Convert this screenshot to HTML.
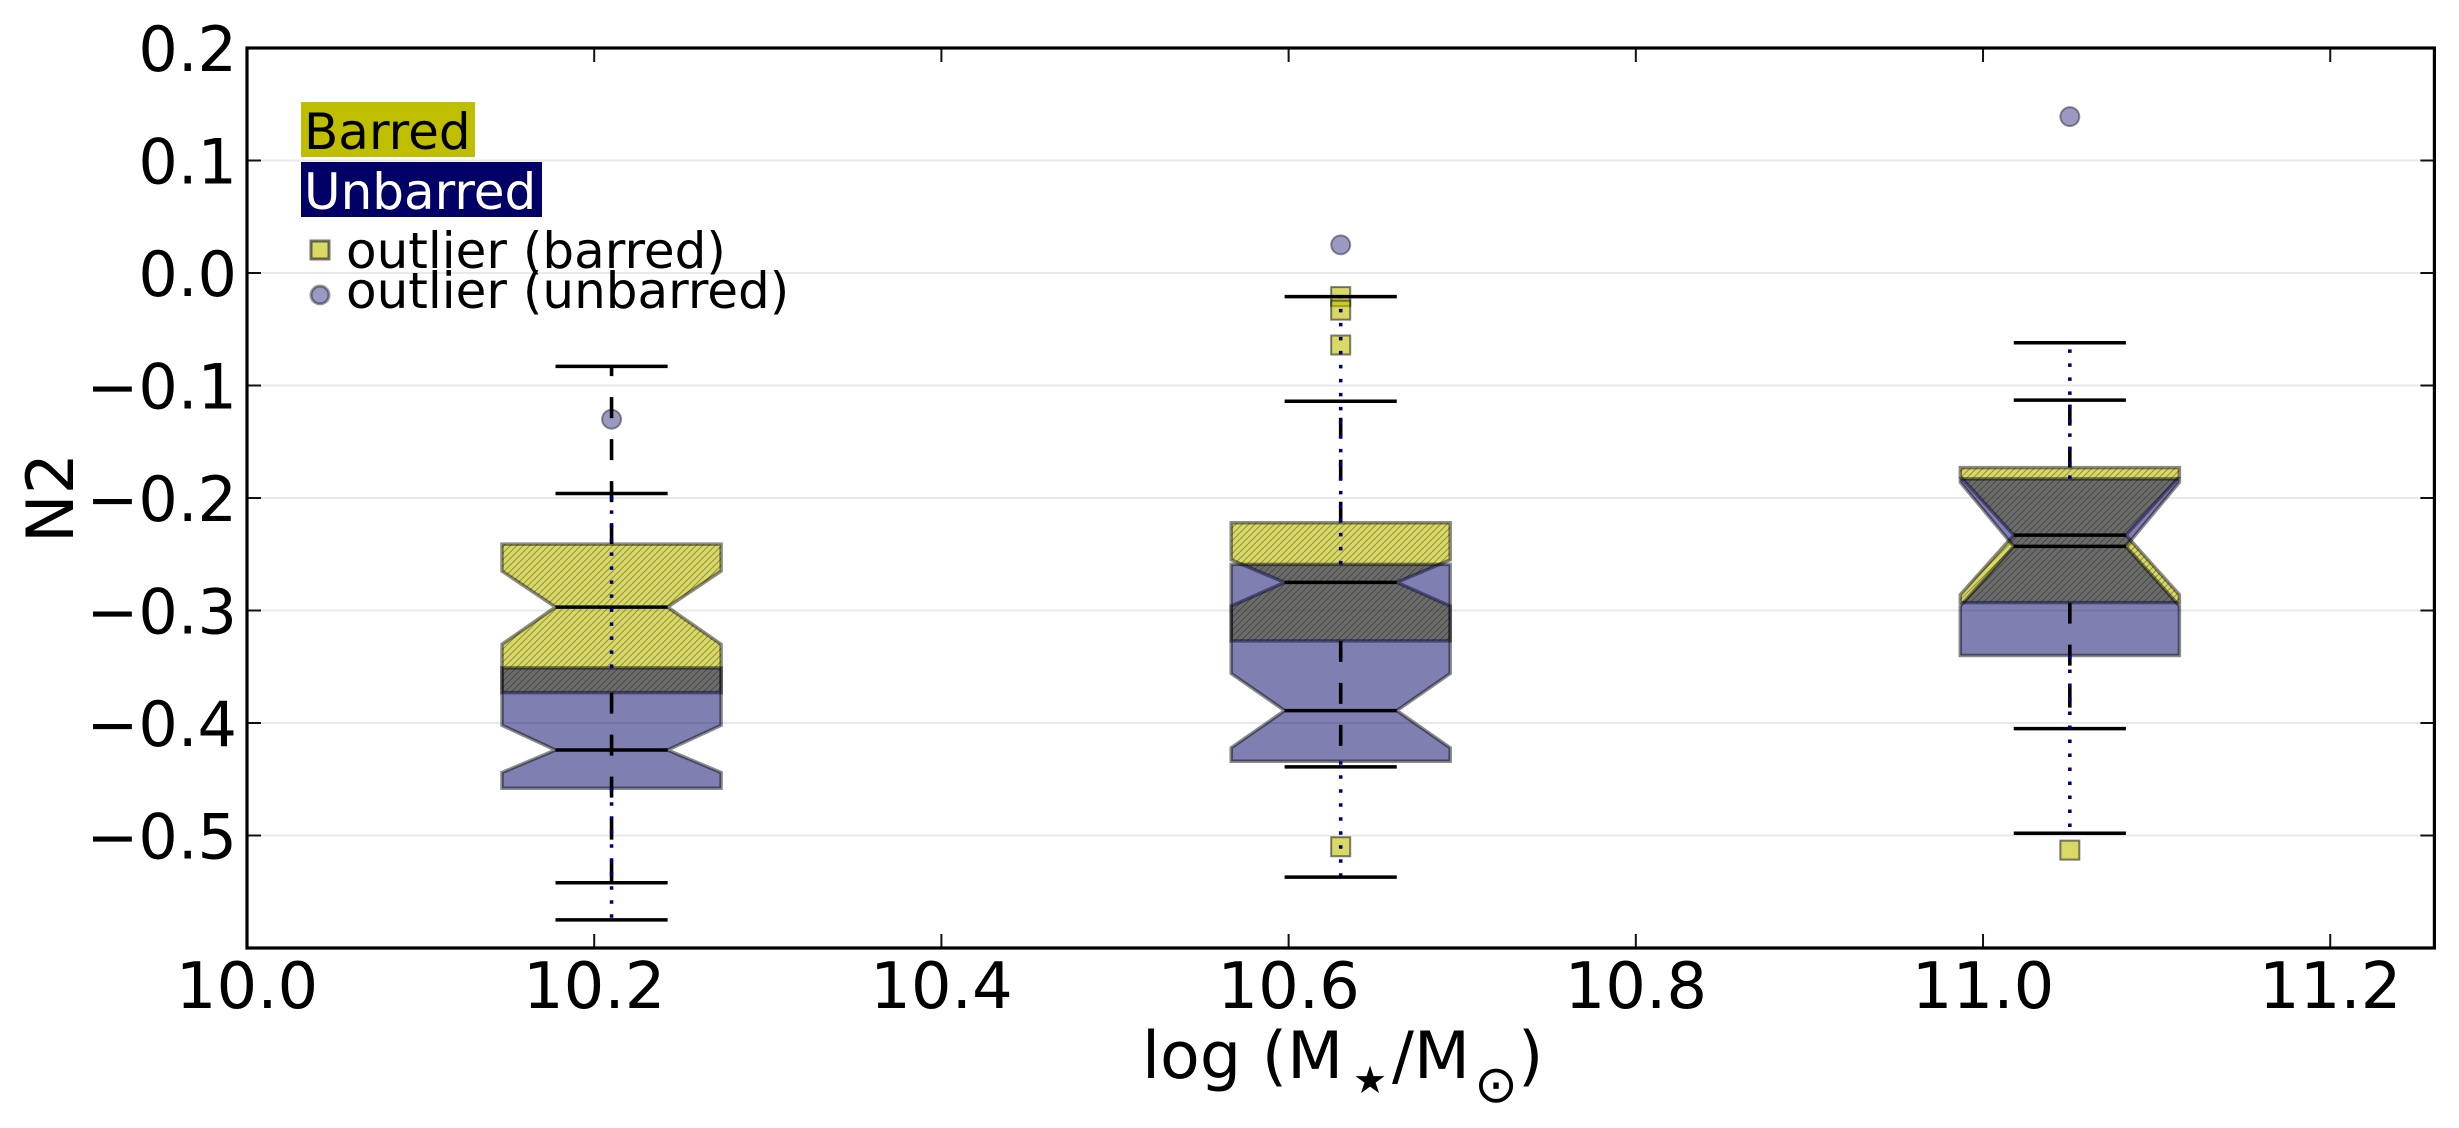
<!DOCTYPE html>
<html lang="en">
<head>
<meta charset="utf-8">
<title>N2 vs stellar mass box plot</title>
<style>
html,body{margin:0;padding:0;background:#fff;width:2459px;height:1128px;overflow:hidden}
svg{display:block}
text{font-family:"DejaVu Sans","Liberation Sans",sans-serif;fill:#000}
</style>
</head>
<body>
<svg id="chart" xmlns="http://www.w3.org/2000/svg" width="2459" height="1128" viewBox="0 0 2459 1128">
  <defs>
    <pattern id="hatch" patternUnits="userSpaceOnUse" width="6.4" height="6.4">
      <path d="M-1,1 L1,-1 M0,6.4 L6.4,0 M5.4,7.4 L7.4,5.4" stroke="#000" stroke-opacity="0.34" stroke-width="1" fill="none"/>
    </pattern>
  </defs>
  <rect x="0" y="0" width="2459" height="1128" fill="#fff"/>
  <g id="grid"></g>
  <g id="fliers"></g>
  <g id="boxes"></g>
  <g id="strokes"></g>
  <g id="axes"></g>

  <g>
    <rect x="301" y="102" width="174" height="55" fill="#bfbf00"/>
    <text x="304" y="149" font-size="50">Barred</text>
    <rect x="301" y="162" width="241" height="55" fill="#000066"/>
    <text x="304" y="209" font-size="50" style="fill:#fff">Unbarred</text>
    <rect x="311" y="241" width="18" height="18" fill="#bfbf00" fill-opacity="0.6" stroke="#000" stroke-opacity="0.55" stroke-width="3"/>
    <text x="346" y="268" font-size="50">outlier (barred)</text>
    <circle cx="320" cy="295" r="9" fill="#000066" fill-opacity="0.4" stroke="#000" stroke-opacity="0.4" stroke-width="3"/>
    <text x="346" y="308" font-size="50">outlier (unbarred)</text>
  </g>

  <g>
    <text x="1142" y="1078" font-size="65" xml:space="preserve">log (M</text>
    <text x="1370" y="1093" font-size="38" text-anchor="middle">★</text>
    <text x="1392" y="1078" font-size="65">/M</text>
    <text x="1496" y="1102" font-size="52" text-anchor="middle">⊙</text>
    <text x="1518" y="1078" font-size="65">)</text>
  </g>
  <text transform="translate(73,498) rotate(-90)" font-size="65" text-anchor="middle">N2</text>
</svg>

<script>
const massBins = [10.21, 10.63, 11.05];

const barredQ3 = [-0.241, -0.222, -0.173];
const barredNotchHigh = [-0.265, -0.255, -0.181];
const barredMedian = [-0.297, -0.275, -0.233];
const barredNotchLow = [-0.330, -0.296, -0.286];
const barredQ1 = [-0.373, -0.327, -0.293];
const barredCapHigh = [-0.083, -0.114, -0.113];
const barredCapLow = [-0.542, -0.439, -0.405];
const barredOutliers = [[], [-0.021, -0.033, -0.064, -0.510], [-0.513]];

const unbarredQ3 = [-0.351, -0.259, -0.183];
const unbarredNotchHigh = [-0.402, -0.356, -0.186];
const unbarredMedian = [-0.424, -0.389, -0.243];
const unbarredNotchLow = [-0.444, -0.422, -0.296];
const unbarredQ1 = [-0.458, -0.434, -0.340];
const unbarredCapHigh = [-0.196, -0.021, -0.062];
const unbarredCapLow = [-0.575, -0.537, -0.498];
const unbarredOutliers = [[-0.130], [0.025], [0.139]];

const xTicks = [10.0, 10.2, 10.4, 10.6, 10.8, 11.0, 11.2];
const xTickLabels = ['10.0', '10.2', '10.4', '10.6', '10.8', '11.0', '11.2'];
const yTicks = [0.2, 0.1, 0.0, -0.1, -0.2, -0.3, -0.4, -0.5];
const yTickLabels = ['0.2', '0.1', '0.0', '\u22120.1', '\u22120.2', '\u22120.3', '\u22120.4', '\u22120.5'];

const AX_LEFT = 247, AX_TOP = 48, AX_BOTTOM = 948, X_MIN = 10.0, X_MAX = 11.26, Y_MIN = -0.6, Y_MAX = 0.2;
const AX_RIGHT = 2434.4;
const BOX_HALF = 0.0631, CAP_HALF = 0.0323, OUTLIER_SIZE = 19;

function xs(v) { return AX_LEFT + (v - X_MIN) / (X_MAX - X_MIN) * (AX_RIGHT - AX_LEFT); }
function ys(v) { return AX_TOP + (Y_MAX - v) / (Y_MAX - Y_MIN) * (AX_BOTTOM - AX_TOP); }

const NS = 'http://www.w3.org/2000/svg';
function make(tag, parent) {
  const el = document.createElementNS(NS, tag);
  parent.appendChild(el);
  return el;
}
function lineTo(el, x1, y1, x2, y2, color, width) {
  el.setAttribute('x1', x1);
  el.setAttribute('y1', y1);
  el.setAttribute('x2', x2);
  el.setAttribute('y2', y2);
  el.setAttribute('stroke', color);
  el.setAttribute('stroke-width', width);
}

const gridG = document.getElementById('grid');
const flierG = document.getElementById('fliers');
const boxG = document.getElementById('boxes');
const strokeG = document.getElementById('strokes');
const axesG = document.getElementById('axes');

// grid
yTicks.forEach(function (t) {
  if (t === Y_MAX) return;
  const g = make('line', gridG);
  
  
  lineTo(g, AX_LEFT, ys(t), AX_RIGHT, ys(t), '#e8e8e8', 2);
});

// outliers
massBins.forEach(function (m, i) {
  barredOutliers[i].forEach(function (v) {
    const r = make('rect', flierG);
    
    
    r.setAttribute('x', xs(m) - OUTLIER_SIZE / 2);
    r.setAttribute('y', ys(v) - OUTLIER_SIZE / 2);
    r.setAttribute('width', OUTLIER_SIZE);
    r.setAttribute('height', OUTLIER_SIZE);
    r.setAttribute('fill', '#bfbf00');
    r.setAttribute('fill-opacity', '0.6');
    r.setAttribute('stroke', '#000');
    r.setAttribute('stroke-opacity', '0.5');
    r.setAttribute('stroke-width', '2');
  });
  unbarredOutliers[i].forEach(function (v) {
    const c = make('circle', flierG);
    
    
    c.setAttribute('cx', xs(m));
    c.setAttribute('cy', ys(v));
    c.setAttribute('r', OUTLIER_SIZE / 2);
    c.setAttribute('fill', '#000066');
    c.setAttribute('fill-opacity', '0.4');
    c.setAttribute('stroke', '#000');
    c.setAttribute('stroke-opacity', '0.4');
    c.setAttribute('stroke-width', '2');
  });
});

function boxPoints(m, q3, nh, med, nl, q1) {
  const l = xs(m - BOX_HALF), r = xs(m + BOX_HALF), cl = xs(m - CAP_HALF), cr = xs(m + CAP_HALF);
  return [
    [l, ys(q3)], [r, ys(q3)], [r, ys(nh)], [cr, ys(med)], [r, ys(nl)], [r, ys(q1)],
    [l, ys(q1)], [l, ys(nl)], [cl, ys(med)], [l, ys(nh)]
  ].map(function (p) { return p[0].toFixed(1) + ',' + p[1].toFixed(1); }).join(' ');
}

function drawBox(m, q3, nh, med, nl, q1, fill, fillOp, hatch) {
  const base = make('polygon', boxG);
  
  
  base.setAttribute('points', boxPoints(m, q3, nh, med, nl, q1));
  base.setAttribute('fill', fill);
  base.setAttribute('fill-opacity', fillOp);
  base.setAttribute('stroke', '#000');
  base.setAttribute('stroke-opacity', '0.45');
  base.setAttribute('stroke-width', '3.5');
  if (hatch) {
    const h = make('polygon', boxG);
    
    
    h.setAttribute('points', boxPoints(m, q3, nh, med, nl, q1));
    h.setAttribute('fill', 'url(#hatch)');
  }
}

function drawLines(m, q3, med, q1, capHi, capLo, wColor, wDash, wWidth) {
  const cx = xs(m);

  const medLine = make('line', strokeG);
  
  
  lineTo(medLine, xs(m - CAP_HALF), ys(med), xs(m + CAP_HALF), ys(med), '#000', 3.5);

  const wUp = make('line', strokeG);
  
  
  lineTo(wUp, cx, ys(q3), cx, ys(capHi), wColor, wWidth);
  wUp.setAttribute('stroke-dasharray', wDash);

  const wDown = make('line', strokeG);
  
  
  lineTo(wDown, cx, ys(q1), cx, ys(capLo), wColor, wWidth);
  wDown.setAttribute('stroke-dasharray', wDash);

  const capU = make('line', strokeG);
  
  
  lineTo(capU, xs(m - CAP_HALF), ys(capHi), xs(m + CAP_HALF), ys(capHi), '#000', 3.5);

  const capL = make('line', strokeG);
  
  
  lineTo(capL, xs(m - CAP_HALF), ys(capLo), xs(m + CAP_HALF), ys(capLo), '#000', 3.5);
}

massBins.forEach(function (m, i) {
  drawBox(m, barredQ3[i], barredNotchHigh[i], barredMedian[i], barredNotchLow[i], barredQ1[i], '#bfbf00', '0.6', true);
});
massBins.forEach(function (m, i) {
  drawBox(m, unbarredQ3[i], unbarredNotchHigh[i], unbarredMedian[i], unbarredNotchLow[i], unbarredQ1[i], '#000066', '0.5', false);
});
massBins.forEach(function (m, i) {
  drawLines(m, barredQ3[i], barredMedian[i], barredQ1[i], barredCapHigh[i], barredCapLow[i], '#000', '21 21', 3.6);
});
massBins.forEach(function (m, i) {
  drawLines(m, unbarredQ3[i], unbarredMedian[i], unbarredQ1[i], unbarredCapHigh[i], unbarredCapLow[i], '#000078', '3.5 10.5', 3.6);
});

// axes
xTicks.forEach(function (t, i) {
  if (t !== X_MIN) {
    const b = make('line', axesG);
    
    
    lineTo(b, xs(t), AX_BOTTOM, xs(t), AX_BOTTOM - 14, '#111', 2);
    const u = make('line', axesG);
    
    
    lineTo(u, xs(t), AX_TOP, xs(t), AX_TOP + 14, '#111', 2);
  }
  const lab = make('text', axesG);
  
  
  lab.setAttribute('x', xs(t));
  lab.setAttribute('y', 1008);
  lab.setAttribute('font-size', 64);
  lab.setAttribute('text-anchor', 'middle');
  lab.textContent = xTickLabels[i];
});
yTicks.forEach(function (t, i) {
  if (t !== Y_MAX) {
    const l = make('line', axesG);
    
    
    lineTo(l, AX_LEFT, ys(t), AX_LEFT + 14, ys(t), '#111', 2);
    const r = make('line', axesG);
    
    
    lineTo(r, AX_RIGHT, ys(t), AX_RIGHT - 14, ys(t), '#111', 2);
  }
  const lab = make('text', axesG);
  
  
  lab.setAttribute('x', 237);
  lab.setAttribute('y', ys(t) + 23);
  lab.setAttribute('font-size', 62);
  lab.setAttribute('text-anchor', 'end');
  lab.textContent = yTickLabels[i];
});

const spine = make('rect', axesG);


spine.setAttribute('x', AX_LEFT);
spine.setAttribute('y', AX_TOP);
spine.setAttribute('width', AX_RIGHT - AX_LEFT);
spine.setAttribute('height', AX_BOTTOM - AX_TOP);
spine.setAttribute('fill', 'none');
spine.setAttribute('stroke', '#000');
spine.setAttribute('stroke-width', '3.2');
</script>
</body>
</html>
